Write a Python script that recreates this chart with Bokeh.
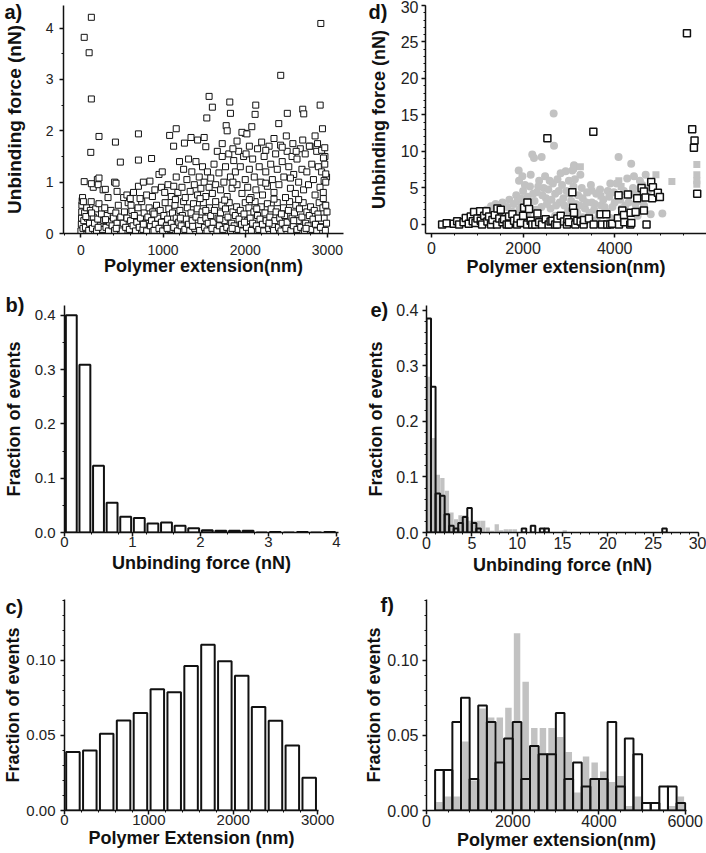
import numpy as np
from bokeh.plotting import figure
from bokeh.layouts import column, row
from bokeh.models import FixedTicker, NumeralTickFormatter, Range1d
from bokeh.embed import file_html
from bokeh.resources import INLINE

FONT = "Liberation Sans"

# ---------------- Panel a: unbinding force vs extension (open squares) ----------------
A_LOW = [(0,0.05),(5,0.18),(8,0.3),(10,0.42),(12,0.55),(15,0.64),(25,0.1),(35,0.25),(45,0.4),(55,0.12),
         (70,0.5),(80,0.3),(95,0.06),(105,0.2),(115,0.45),(125,0.62),(140,0.1),(150,0.32),(165,0.2),(180,0.48),
         (190,0.05),(205,0.28),(220,0.58),(235,0.15),(250,0.38),(265,0.08),(280,0.25),(290,0.5),(305,0.12),(320,0.35),
         (335,0.05),(350,0.22),(365,0.45),(380,0.15),(395,0.3),(410,0.06),(425,0.4),(440,0.2),(455,0.55),(470,0.1),
         (485,0.32),(500,0.05),(515,0.2),(530,0.42),(545,0.12),(560,0.3),(575,0.6),(590,0.08),(605,0.25),(620,0.45),
         (635,0.15),(650,0.35),(665,0.05),(680,0.22),(695,0.5),(710,0.12),(725,0.3),(740,0.62),(755,0.08),(770,0.4),
         (785,0.2),(800,0.05),(815,0.32),(830,0.5),(845,0.15),(860,0.25),(875,0.42),(890,0.06),(905,0.18),(920,0.55),
         (935,0.3),(950,0.1),(965,0.45),(980,0.22),(995,0.05),(1010,0.35),(1025,0.6),(1040,0.15),(1055,0.28),(1070,0.48),
         (1085,0.08),(1100,0.2),(1115,0.4),(1130,0.12),(1145,0.55),(1160,0.3),(1175,0.05),(1190,0.22),(1205,0.45),(1220,0.15),
         (1235,0.35),(1250,0.62),(1265,0.08),(1280,0.28),(1295,0.5),(1310,0.18),(1325,0.05),(1340,0.4),(1355,0.25),(1370,0.58),
         (1385,0.1),(1400,0.32),(1415,0.48),(1430,0.15),(1445,0.06),(1460,0.25),(1475,0.42),(1490,0.6),(1505,0.12),(1520,0.3),
         (1535,0.05),(1550,0.2),(1565,0.5),(1580,0.35),(1595,0.1),(1610,0.22),(1625,0.45),(1640,0.62),(1655,0.06),(1670,0.3),
         (1685,0.15),(1700,0.4),(1715,0.55),(1730,0.08),(1745,0.25),(1760,0.48),(1775,0.12),(1790,0.32),(1805,0.6),(1820,0.05),
         (1835,0.2),(1850,0.42),(1865,0.15),(1880,0.35),(1895,0.52),(1910,0.08),(1925,0.28),(1940,0.45),(1955,0.18),(1970,0.05),
         (1985,0.38),(2000,0.6),(2015,0.12),(2030,0.25),(2045,0.5),(2060,0.3),(2075,0.06),(2090,0.2),(2105,0.42),(2120,0.62),
         (2135,0.15),(2150,0.35),(2165,0.08),(2180,0.28),(2195,0.52),(2210,0.18),(2225,0.05),(2240,0.4),(2255,0.25),(2270,0.58),
         (2285,0.1),(2300,0.32),(2315,0.48),(2330,0.15),(2345,0.06),(2360,0.25),(2375,0.42),(2390,0.6),(2405,0.12),(2420,0.3),
         (2435,0.05),(2450,0.2),(2465,0.5),(2480,0.35),(2495,0.1),(2510,0.22),(2525,0.45),(2540,0.62),(2555,0.06),(2570,0.3),
         (2585,0.15),(2600,0.4),(2615,0.55),(2630,0.08),(2645,0.25),(2660,0.48),(2675,0.12),(2690,0.32),(2705,0.6),(2720,0.05),
         (2735,0.2),(2750,0.42),(2765,0.15),(2780,0.35),(2795,0.52),(2810,0.08),(2825,0.28),(2840,0.45),(2855,0.18),(2870,0.05),
         (2885,0.38),(2900,0.6),(2915,0.12),(2930,0.25),(2945,0.5),(2960,0.3),(2975,0.06),(2990,0.2),(2995,0.42),
         (60,0.33),(130,0.4),(210,0.12),(300,0.27),(430,0.1),(610,0.55),(760,0.18),(890,0.38),(1050,0.1),(1210,0.3),
         (1360,0.14),(1520,0.45),(1690,0.28),(1840,0.1),(1990,0.22),(2140,0.48),(2290,0.2),(2440,0.38),(2590,0.25),(2740,0.1),
         (2890,0.3),(2980,0.55)]
A_MID = [(20,0.7),(30,0.62),(150,0.9),(200,1.05),(210,0.95),(270,0.85),(330,0.7),(410,1.0),(440,0.82),(520,0.7),
         (560,0.75),(600,0.68),(640,0.8),(700,0.92),(720,0.68),(760,1.0),(800,0.75),(840,1.02),(870,0.72),(900,0.85),
         (950,1.15),(980,0.9),(990,1.2),(1020,0.8),(1060,0.95),(1100,0.72),(1130,0.92),(1160,1.1),(1180,0.8),(1200,1.4),
         (1230,0.9),(1250,1.25),(1270,0.7),(1290,1.05),(1310,1.45),(1330,0.82),(1350,1.2),(1380,0.95),(1400,1.4),(1420,0.75),
         (1440,1.1),(1460,0.88),(1480,1.3),(1500,1.0),(1520,0.72),(1540,1.2),(1560,0.9),(1580,1.08),(1600,0.78),(1620,1.35),
         (1640,0.95),(1660,1.6),(1680,1.18),(1700,0.85),(1720,1.5),(1740,1.0),(1760,1.3),(1780,0.72),(1800,1.55),(1820,1.1),
         (1840,0.88),(1860,1.42),(1880,1.2),(1900,0.95),(1920,1.6),(1940,1.3),(1960,0.78),(1980,1.5),(2000,1.05),(2010,1.55),
         (2030,0.9),(2050,1.25),(2070,0.7),(2090,1.45),(2110,1.1),(2130,0.85),(2150,1.65),(2170,1.3),(2190,1.0),(2210,0.75),
         (2230,1.5),(2250,1.2),(2270,0.92),(2290,1.7),(2310,1.35),(2330,1.05),(2350,0.8),(2370,1.55),(2390,1.25),(2410,0.95),
         (2430,1.72),(2450,1.4),(2470,1.1),(2490,0.7),(2510,1.6),(2530,1.3),(2550,0.88),(2570,1.5),(2590,1.15),(2610,0.78),
         (2630,1.45),(2650,1.0),(2670,1.65),(2690,1.25),(2710,0.85),(2730,1.55),(2750,1.2),(2770,0.95),(2790,1.7),(2810,1.35),
         (2830,1.05),(2850,0.75),(2870,1.6),(2890,1.3),(2910,0.9),(2930,1.2),(2950,0.8),(2970,1.5),(2990,1.1),
         (1720,1.75),(1850,1.65),(1900,1.8),(2000,1.95),(2050,1.7),(2200,1.78),(2250,1.62),(2350,1.85),(2450,1.68),(2500,1.9),
         (2580,1.75),(2620,1.6),(2700,1.82),(2780,1.7),(2850,1.9),(2880,1.75),(2930,1.62),
         (1150,0.66),(1450,0.68),(1750,0.65),(2050,0.66),(2350,0.67),(2650,0.66),(2950,0.68),(1850,1.0),(2250,0.98),(2550,1.08)]
A_HIGH = [(40,3.82),(127,4.21),(100,3.52),(127,2.62),(120,1.58),(220,1.89),(420,1.78),(700,1.94),(480,1.39),(860,1.46),
          (700,1.43),(2920,4.09),(2432,3.08),(1560,2.67),(1600,2.46),(1532,2.25),(1812,2.56),(1820,2.34),(2128,2.5),(2120,2.32),
          (2512,2.34),(2700,2.42),(2712,2.33),(2912,2.5),(2940,2.04),(2408,2.14),(1160,2.04),(1080,1.91),(1340,1.87),(1420,1.82),
          (1500,1.87),(1520,1.69),(1128,1.70),(1260,1.76),(1768,2.10),(1780,2.0),(2080,2.08),(1960,1.97),(2020,1.94),(2968,1.67),
          (2952,1.47),(2968,1.35),(2980,1.16),(2960,1.03),(2980,1.0),(40,1.01),(127,0.97),(220,1.08),(297,0.86),(427,0.98)]

# ---------------- Panel b: histogram of unbinding force ----------------
B_BIN_LEFT = [0.0, 0.2, 0.4, 0.6, 0.8, 1.0, 1.2, 1.4, 1.6, 1.8, 2.0, 2.2, 2.4, 2.6, 2.8, 3.0, 3.2, 3.4, 3.6, 3.8]
B_FRACTION = [0.400, 0.309, 0.123, 0.055, 0.029, 0.0265, 0.0166, 0.0185, 0.0123, 0.008,
              0.0043, 0.003, 0.003, 0.003, 0.0, 0.001, 0.0, 0.001, 0.0, 0.001]

# ---------------- Panel c: histogram of polymer extension ----------------
C_BIN_LEFT = [0, 200, 400, 600, 800, 1000, 1200, 1400, 1600, 1800, 2000, 2200, 2400, 2600, 2800]
C_FRACTION = [0.0389, 0.040, 0.0511, 0.060, 0.0649, 0.0807, 0.0787, 0.0962, 0.1104, 0.0993,
              0.0898, 0.0689, 0.0598, 0.0433, 0.0218]

# ---------------- Panel d: unbinding force vs extension, two data sets ----------------
D_SQUARES = [(232,0.0),(330,0.15),(486,0.1),(560,0.45),(603,0.0),(700,0.3),(748,0.9),(813,0.1),(857,1.1),(900,0.45),
             (930,1.7),(960,0.2),(1002,0.8),(1061,1.8),(1075,0.5),(1104,0.0),(1150,1.2),(1199,1.8),(1221,0.4),(1257,1.1),
             (1300,0.0),(1330,0.6),(1380,1.3),(1431,0.0),(1439,2.2),(1480,0.8),(1512,2.0),(1550,0.3),(1584,0.7),(1640,0.0),
             (1686,0.0),(1693,1.1),(1766,1.4),(1802,0.5),(1868,0.0),(1875,0.8),(1948,0.2),(2000,1.2),(2021,2.3),(2086,0.0),
             (2094,3.0),(2130,2.1),(2166,0.5),(2200,0.0),(2268,0.0),(2312,1.5),(2350,0.3),(2413,0.0),(2493,0.7),(2530,11.8),
             (2558,0.0),(2600,0.4),(2639,0.5),(2700,0.0),(2740,0.0),(2748,0.8),(2821,1.2),(2894,0.4),(2958,0.0),(2966,0.7),
             (3000,0.3),(3075,4.4),(3090,2.3),(3111,1.6),(3140,0.0),(3184,0.5),(3256,0.4),(3322,0.0),(3329,0.6),(3438,0.8),
             (3533,12.7),(3540,0.0),(3692,1.4),(3722,0.0),(3816,1.4),(3838,0.0),(3904,0.0),(3947,0.1),(4070,0.85),(4085,4.0),
             (4093,0.0),(4166,1.9),(4202,1.3),(4210,0.3),(4288,4.1),(4340,0.0),(4348,1.6),(4362,0.2),(4457,1.7),(4491,3.6),
             (4586,5.0),(4637,4.5),(4637,1.9),(4673,3.7),(4695,0.0),(4797,5.8),(4833,5.1),(4819,3.6),(4942,4.35),(4986,3.77),
             (5577,26.2),(5692,13.05),(5743,11.5),(5729,10.5),(5801,4.2)]
D_GRAY_CIRCLES = [(1000,1.0),(1100,1.5),(1200,2.0),(1300,2.5),(1350,1.2),(1400,2.8),(1450,2.2),(1500,1.6),(1550,3.0),(1600,1.0),
                  (1650,2.4),(1700,3.4),(1750,1.8),(1800,2.8),(1850,4.0),(1880,3.2),(1904,7.4),(1911,6.0),(1920,2.0),(1950,3.6),
                  (1984,6.6),(2000,4.6),(2050,2.8),(2100,3.8),(2150,5.2),(2166,6.8),(2200,9.6),(2238,9.1),(2250,3.2),(2300,4.4),
                  (2350,6.0),(2400,2.4),(2405,9.25),(2450,5.0),(2500,3.6),(2550,4.8),(2600,2.2),(2650,5.6),(2667,15.2),(2675,10.8),
                  (2700,4.2),(2750,6.2),(2800,3.0),(2850,5.4),(2900,2.6),(2930,7.3),(2950,4.6),(3000,6.0),(3050,3.2),(3075,7.4),
                  (3100,5.2),(3111,8.1),(3150,2.8),(3200,4.0),(3250,6.8),(3300,3.6),(3350,2.2),(3400,4.4),(3450,1.6),(3500,3.0),
                  (3550,2.0),(3600,4.2),(3650,1.2),(3700,2.6),(3750,3.4),(3800,1.8),(3850,4.6),(3904,5.6),(3950,2.4),(4000,3.0),
                  (4084,9.25),(4150,2.2),(4200,4.6),(4273,6.3),(4300,3.0),(4360,8.3),(4400,5.0),(4450,2.8),(4500,4.0),(4550,6.0),
                  (4600,5.4),(4676,6.8),(4786,1.4),(5040,1.5),(1250,0.5),(1700,0.8),(2100,1.0),(2400,0.6),(2700,1.2),(3000,0.8),
                  (3300,1.0),(3600,0.6),(3900,0.9),(4200,0.7),(4500,1.2),
                  (1820,1.5),(1960,2.4),(2040,5.4),(2120,1.8),(2220,4.2),(2280,2.0),(2330,5.2),(2420,4.0),(2480,6.6),(2520,2.8),
                  (2580,6.0),(2620,3.4),(2720,2.6),(2780,4.6),(2820,7.0),(2880,3.6),(2980,1.8),(3020,4.2),(3130,6.2),(3180,1.6),
                  (3230,2.6),(3280,5.0),(3380,3.0),(3480,5.4),(3560,2.8),(3680,4.8),(3780,2.4),(3880,3.8),(3980,4.4),(4040,5.6),
                  (4120,3.4),(4230,2.6),(4330,4.2),(4420,6.6),(4480,2.0),(4560,3.2),(4640,2.6),(4720,4.4)]
D_GRAY_SQUARES = [(3100,7.7),(3250,7.9),(3394,4.35),(3500,4.6),(3600,4.3),(4090,6.0),(4140,5.2),(4900,6.8),(5248,5.9),
                  (5793,8.2),(5793,6.8),(5793,6.0),(5793,5.5),(4750,5.0),(3700,3.9),(4400,4.4)]

# ---------------- Panel e: force histograms, two data sets ----------------
E_BLACK_LEFT = [0, 0.5, 1, 1.5, 2, 2.5, 3, 3.5, 4, 4.5, 5, 5.5, 10.5, 11.5, 12.5, 13, 26]
E_BLACK_FRACTION = [0.385, 0.262, 0.070, 0.066, 0.033, 0.012, 0.007, 0.017, 0.028, 0.044, 0.017, 0.007,
                    0.007, 0.012, 0.007, 0.007, 0.007]
E_GRAY_LEFT = [0, 0.5, 1, 1.5, 2, 2.5, 3, 3.5, 4, 4.5, 5, 5.5, 6, 6.5, 7, 7.5, 8, 8.5, 9, 9.5, 15]
E_GRAY_FRACTION = [0.28, 0.17, 0.104, 0.098, 0.075, 0.036, 0.024, 0.031, 0.031, 0.021, 0.021, 0.021, 0.021,
                   0.009, 0.003, 0.015, 0.004, 0.006, 0.006, 0.006, 0.004]

# ---------------- Panel f: extension histograms, two data sets ----------------
F_BIN_LEFT = [200, 400, 600, 800, 1000, 1200, 1400, 1600, 1800, 2000, 2200, 2400, 2600, 2800, 3000,
              3200, 3400, 3600, 3800, 4000, 4200, 4400, 4600, 4800, 5000, 5200, 5400, 5600, 5800]
F_BLACK_FRACTION = [0.027, 0.027, 0.059, 0.075, 0.021, 0.070, 0.059, 0.032, 0.048, 0.059, 0.021, 0.043, 0.0375,
                    0.0375, 0.065, 0.021, 0.032, 0.016, 0.021, 0.021, 0.059, 0.016, 0.048, 0.0375, 0.005, 0.005,
                    0.016, 0.016, 0.005]
F_GRAY_FRACTION = [0.0056, 0.0094, 0.0094, 0.046, 0.020, 0.068, 0.062, 0.062, 0.0685, 0.118, 0.0857, 0.055, 0.055,
                   0.055, 0.049, 0.039, 0.012, 0.036, 0.032, 0.026, 0.019, 0.023, 0.003, 0.0094, 0.0, 0.0, 0.0,
                   0.003, 0.0094]


def xs(points):
    return [p[0] for p in points]


def ys(points):
    return [p[1] for p in points]


def make_panel(width, height, x_range, y_range, borders, x_ticks, x_minor, y_ticks, y_minor,
               x_title, y_title, tick_px, y_title_px, y_std, x_std, y_format=None):
    left, right, top, bottom = borders
    p = figure(width=width, height=height, x_range=Range1d(*x_range), y_range=Range1d(*y_range),
               output_backend="svg", toolbar_location=None,
               min_border_left=left, min_border_right=right, min_border_top=top, min_border_bottom=bottom)
    p.outline_line_color = None
    p.xgrid.visible = False
    p.ygrid.visible = False
    p.background_fill_color = "white"
    p.border_fill_color = "white"
    p.xaxis.ticker = FixedTicker(ticks=x_ticks, minor_ticks=x_minor)
    p.yaxis.ticker = FixedTicker(ticks=y_ticks, minor_ticks=y_minor)
    if y_format:
        p.yaxis.formatter = NumeralTickFormatter(format=y_format)
    p.xaxis.axis_label = x_title
    p.yaxis.axis_label = y_title
    for ax in list(p.xaxis) + list(p.yaxis):
        ax.axis_line_width = 1.5
        ax.axis_line_color = "#111111"
        ax.major_tick_line_color = "#111111"
        ax.minor_tick_line_color = "#111111"
        ax.major_tick_line_width = 1.5
        ax.minor_tick_line_width = 1
        ax.major_tick_in = 0
        ax.major_tick_out = 4
        ax.minor_tick_in = 0
        ax.minor_tick_out = 2
        ax.major_label_text_font = FONT
        ax.major_label_text_font_size = f"{tick_px}px"
        ax.major_label_text_color = "#222222"
        ax.axis_label_text_font = FONT
        ax.axis_label_text_font_style = "bold"
        ax.axis_label_text_color = "#111111"
        ax.axis_label_text_font_size = "18px"
    p.yaxis.axis_label_text_font_size = f"{y_title_px}px"
    p.yaxis.major_label_standoff = y_std[0]
    p.yaxis.axis_label_standoff = y_std[1]
    p.xaxis.major_label_standoff = x_std[0]
    p.xaxis.axis_label_standoff = x_std[1]
    return p


def letter(p, text, offset, standoff):
    # panel letter drawn as the figure title, pulled left of the y axis
    p.title.text = text
    p.title.align = "left"
    p.title.vertical_align = "bottom"
    p.title.offset = offset
    p.title.standoff = standoff
    p.title.text_font = FONT
    p.title.text_font_style = "bold"
    p.title.text_font_size = "20px"
    p.title.text_color = "#111111"


# ---- a ----  (figure occupies x 0..353, y 0..280)
pa = make_panel(353, 280, (-212, 3196), (0, 4.44), (59, 10, 5, 47),
                [0, 1000, 2000, 3000], list(np.arange(-200, 3201, 200)),
                [0, 1, 2, 3, 4], list(np.arange(0, 4.44, 0.5)),
                "Polymer extension(nm)", "Unbinding force (nN)", 14, 19, (6, 18), (7, -2))
for grp in (A_LOW, A_MID, A_HIGH):
    pa.scatter(xs(grp), ys(grp), marker="square", size=6, fill_color="white",
               line_color="#111111", line_width=1)
letter(pa, "a)", -59, -34)

# ---- b ----  (x 0..353, y 280..578)
B_W = 0.2
pb = make_panel(353, 298, (0, 4.03), (0, 0.418), (59, 15, 25, 46),
                [0, 1, 2, 3, 4], [0.4, 0.8, 1.2, 1.6, 2.4, 2.8, 3.2, 3.6],
                [0, 0.1, 0.2, 0.3, 0.4], list(np.arange(0, 0.418, 0.05)),
                "Unbinding force (nN)", "Fraction of events", 15, 18, (5, 8), (0, 3), "0.0")
pb.vbar(x=[v + B_W / 2 for v in B_BIN_LEFT], top=B_FRACTION, bottom=0, width=B_W * 0.8,
        fill_color="white", line_color="#111111", line_width=2)
letter(pb, "b)", -59, -20)

# ---- c ----  (x 0..353, y 578..853)
C_W = 200
pc = make_panel(353, 275, (0, 3010), (0, 0.1405), (59, 35, 21, 43),
                [0, 1000, 2000, 3000], list(np.arange(0, 3001, 200)),
                [0, 0.05, 0.10], list(np.arange(0, 0.1405, 0.01)),
                "Polymer Extension (nm)", "Fraction of events", 15, 18, (5, 0), (0, 0), "0.00")
pc.vbar(x=[v + C_W / 2 for v in C_BIN_LEFT], top=C_FRACTION, bottom=0, width=C_W * 0.8,
        fill_color="white", line_color="#111111", line_width=2)
letter(pc, "c)", -59, -36)

# ---- d ----  (x 353..706, y 0..280)
pd_ = make_panel(353, 280, (-131, 6004), (-1.24, 30), (72, 0, 5, 47),
                 [0, 2000, 4000], list(np.arange(0, 6001, 500)),
                 [0, 5, 10, 15, 20, 25, 30], list(np.arange(0, 30.1, 1)),
                 "Polymer extension(nm)", "Unbinding force (nN)", 16, 18, (3, 9), (4, 0))
GRAY = "#c2c2c2"
pd_.scatter(xs(D_GRAY_CIRCLES), ys(D_GRAY_CIRCLES), marker="circle", size=8, fill_color=GRAY, line_color=None)
pd_.scatter(xs(D_GRAY_SQUARES), ys(D_GRAY_SQUARES), marker="square", size=7, fill_color=GRAY, line_color=None)
pd_.scatter(xs(D_SQUARES), ys(D_SQUARES), marker="square", size=7, fill_color="white",
            line_color="#111111", line_width=1.5)
letter(pd_, "d)", -57, -34)

# ---- e ----  (x 353..706, y 280..578)
E_W = 0.5
pe = make_panel(353, 298, (0, 30), (0, 0.4083), (73, 8, 25, 46),
                [0, 5, 10, 15, 20, 25, 30], list(np.arange(0, 30.1, 1)),
                [0, 0.1, 0.2, 0.3, 0.4], list(np.arange(0, 0.4083, 0.02)),
                "Unbinding force (nN)", "Fraction of events", 16, 18, (4, 7), (0, 3), "0.0")
pe.vbar(x=[v + E_W / 2 for v in E_GRAY_LEFT], top=E_GRAY_FRACTION, bottom=0, width=E_W * 0.95,
        fill_color=GRAY, line_color=None)
pe.vbar(x=[v + E_W / 2 for v in E_BLACK_LEFT], top=E_BLACK_FRACTION, bottom=0, width=E_W,
        fill_color=None, line_color="#111111", line_width=2)
letter(pe, "e)", -56, -30)

# ---- f ----  (x 353..706, y 578..853)
F_W = 200
pf = make_panel(353, 275, (0, 6030), (0, 0.1405), (73, 20, 21, 43),
                [0, 2000, 4000, 6000], list(np.arange(0, 6001, 500)),
                [0, 0.05, 0.10], list(np.arange(0, 0.1405, 0.01)),
                "Polymer extension(nm)", "Fraction of events", 16, 18, (4, 0), (0, 0), "0.00")
pf.vbar(x=[v + F_W / 2 for v in F_BIN_LEFT], top=F_GRAY_FRACTION, bottom=0, width=F_W * 0.75,
        fill_color=GRAY, line_color=None)
pf.vbar(x=[v + F_W / 2 for v in F_BIN_LEFT], top=F_BLACK_FRACTION, bottom=0, width=F_W,
        fill_color=None, line_color="#111111", line_width=2)
letter(pf, "f)", -46, -32)

layout = column(row(pa, pd_), row(pb, pe), row(pc, pf))
open("out.html", "w").write(file_html(layout, INLINE))
